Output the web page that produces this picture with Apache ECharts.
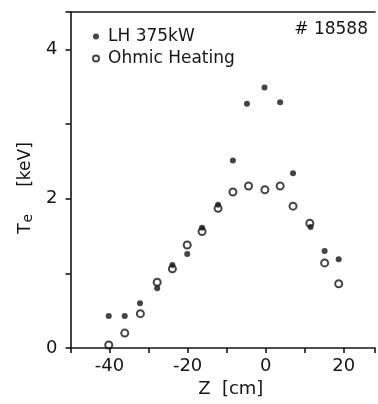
<!DOCTYPE html>
<html>
<head>
<meta charset="utf-8">
<script src="https://cdn.jsdelivr.net/npm/echarts@6/dist/echarts.min.js"></script>
<style>
  html, body { margin: 0; padding: 0; background: #fff; }
  #chart { width: 378px; height: 404px; }
</style>
</head>
<body>
<div id="chart"></div>
<script>
// Te profile vs Z, shot #18588
const zLH = [-40.2, -36.1, -32.2, -27.8, -23.9, -20.1, -16.3, -12.2, -8.4, -4.8, -0.3, 3.7, 7.0, 11.5, 15.1, 18.7]
const teLH = [0.43, 0.43, 0.60, 0.80, 1.11, 1.26, 1.61, 1.92, 2.51, 3.27, 3.49, 3.29, 2.34, 1.62, 1.30, 1.19]
const zOH = [-40.2, -36.1, -32.1, -27.8, -23.9, -20.1, -16.3, -12.2, -8.4, -4.4, -0.2, 3.7, 7.0, 11.3, 15.1, 18.7]
const teOH = [0.04, 0.20, 0.46, 0.88, 1.06, 1.38, 1.56, 1.87, 2.09, 2.17, 2.12, 2.17, 1.90, 1.67, 1.14, 0.86]
const seriesNames = ['LH 375kW', 'Ohmic Heating']
const shotLabel = '# 18588'
const xLabels = [-40, -20, 0, 20]
const yLabels = [0, 2, 4]

const ink = '#151515'
const font = 'DejaVu Sans'

const chart = echarts.init(document.getElementById('chart'))
chart.setOption({
  animation: false,
  backgroundColor: '#fff',
  title: {
    text: shotLabel,
    right: 5,
    top: 16,
    textStyle: { fontFamily: font, fontSize: 17, fontWeight: 'normal', color: ink },
  },
  legend: {
    orient: 'vertical',
    left: 87,
    top: 23,
    itemWidth: 6,
    itemHeight: 6,
    itemGap: 5,
    icon: 'circle',
    textStyle: { fontFamily: font, fontSize: 17, color: ink, padding: [0, 0, 0, 4] },
    data: seriesNames,
  },
  grid: { left: 70.5, right: 0, top: 12, bottom: 56 },
  xAxis: [
    {
      type: 'value',
      min: -50,
      max: 28,
      interval: 10,
      name: 'Z  [cm]',
      nameLocation: 'middle',
      nameGap: 32,
      nameTextStyle: { fontFamily: font, fontSize: 18, color: ink, padding: [0, 0, 0, 16] },
      axisLine: { onZero: false, lineStyle: { color: ink, width: 1.6 } },
      axisTick: { length: 5, lineStyle: { color: ink, width: 1.6 } },
      axisLabel: {
        margin: 9,
        fontFamily: font,
        fontSize: 18,
        color: ink,
        formatter: (v) => (xLabels.includes(v) ? String(v) : ''),
      },
      splitLine: { show: false },
    },
    {
      type: 'value',
      position: 'top',
      min: -50,
      max: 28,
      axisLine: { onZero: false, lineStyle: { color: ink, width: 1.6 } },
      axisTick: { show: false },
      axisLabel: { show: false },
      splitLine: { show: false },
    },
  ],
  yAxis: {
    type: 'value',
    min: 0,
    max: 4.5,
    interval: 1,
    name: 'T{sub|e}     [keV]',
    nameLocation: 'middle',
    nameGap: 35,
    nameTextStyle: {
      fontFamily: font,
      fontSize: 17,
      color: ink,
      padding: [0, 16, 0, 0],
      rich: { sub: { fontFamily: font, fontSize: 14, color: ink, verticalAlign: 'bottom', padding: [5, 0, 0, 1] } },
    },
    axisLine: { onZero: false, lineStyle: { color: ink, width: 1.6 } },
    axisTick: { length: 5, lineStyle: { color: ink, width: 1.6 } },
    axisLabel: {
      margin: 13,
      fontFamily: font,
      fontSize: 18,
      color: ink,
      formatter: (v) => (yLabels.includes(v) ? String(v) : ''),
    },
    splitLine: { show: false },
  },
  series: [
    {
      name: seriesNames[0],
      type: 'scatter',
      symbol: 'circle',
      symbolSize: 6,
      itemStyle: { color: ink },
      data: zLH.map((z, i) => [z, teLH[i]]),
    },
    {
      name: seriesNames[1],
      type: 'scatter',
      symbol: 'circle',
      symbolSize: 7,
      itemStyle: { color: 'rgba(255,255,255,0)', borderColor: ink, borderWidth: 2 },
      data: zOH.map((z, i) => [z, teOH[i]]),
    },
  ],
})
</script>
</body>
</html>
